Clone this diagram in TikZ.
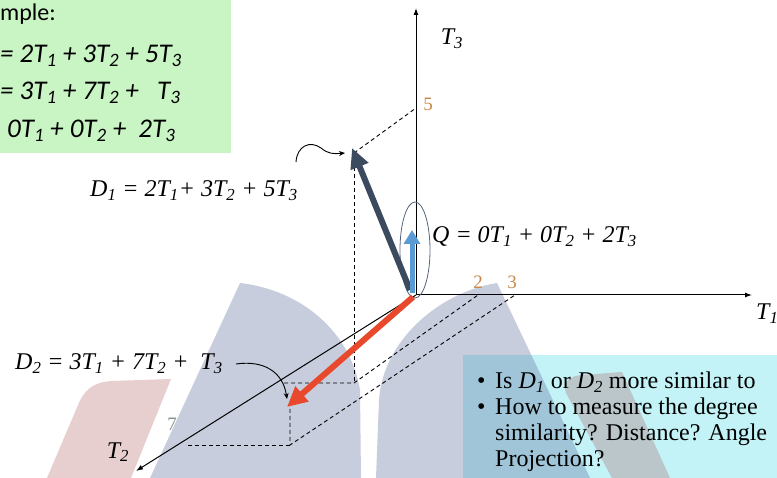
\documentclass[tikz,border=0pt]{standalone}
\usepackage{fontspec}
\setmainfont{Liberation Serif}
\newfontfamily\calib{Carlito}
\usetikzlibrary{arrows.meta}
\definecolor{greenbox}{HTML}{C9F4C4}
\definecolor{cyanbox}{HTML}{C3F3F7}
\definecolor{dOne}{HTML}{3B4A5E}
\definecolor{dTwo}{HTML}{E8492C}
\definecolor{qcol}{HTML}{5B9BD5}
\definecolor{tickc}{HTML}{C8894A}
\definecolor{sevenc}{HTML}{8A9590}
\definecolor{ellc}{HTML}{56657F}
\definecolor{wmgrey}{HTML}{5A6A9A}
\definecolor{wmpink}{HTML}{A03838}
\newcommand\tsb[1]{\textsubscript{#1}}
\begin{document}
\begin{tikzpicture}[x=1pt,y=-1pt,
  lbl/.style={font=\fontsize{24}{28}\selectfont\itshape, inner sep=0pt},
  greentxt/.style={font=\fontsize{27}{30}\selectfont\calib\itshape, inner sep=0pt, anchor=base west},
  bultxt/.style={font=\fontsize{24}{28}\selectfont, inner sep=0pt, anchor=base west},
  ticklbl/.style={font=\fontsize{19}{21}\selectfont, text=tickc, inner sep=0pt},
  axis/.style={line width=1pt, -{Latex[length=7pt,width=5pt]}},
  dashline/.style={line width=0.9pt, dash pattern=on 4pt off 3pt},
  pointer/.style={line width=0.9pt, -{Stealth[length=6pt,width=5pt]}},
  wm/.style={opacity=0.33},
  wmp/.style={opacity=0.24}]
\useasboundingbox (0,0) rectangle (777,478);
\clip (0,0) rectangle (777,478);
\fill[white] (0,0) rectangle (777,478);
% boxes
\fill[greenbox] (0,0) rectangle (231,153);
\fill[cyanbox] (463,355) rectangle (777,478);
% watermark shapes
\fill[wmpink, wmp] (47,478) -- (78,405) .. controls (85,388) and (95,382) .. (112,381) -- (171,379) -- (131,478) -- cycle;
\fill[wmgrey, wm] (150,478) -- (240,283) .. controls (300,290) and (350,330) .. (360,390) -- (361,478) -- cycle;
\fill[wmgrey, wm] (376,478) -- (379,400) .. controls (383,340) and (440,292) .. (497,283) -- (590,478) -- cycle;
\fill[wmpink, wmp] (612,478) -- (566,393) .. controls (562,383) and (570,375) .. (583,375) -- (622,372) -- (670,478) -- cycle;
% green box text
\node[greentxt, font=\fontsize{24}{28}\selectfont\calib] (ex) at (0,21) {mple:};
\node[greentxt] (e1) at (0,63) {= 2T\tsb{1} + 3T\tsb{2} + 5T\tsb{3}};
\node[greentxt] (e2) at (0,100) {= 3T\tsb{1} + 7T\tsb{2} + \ \ T\tsb{3}};
\node[greentxt] (e3) at (7,138) {0T\tsb{1} + 0T\tsb{2} + \ 2T\tsb{3}};
% coordinates
\coordinate (O) at (416,295);
\coordinate (T1e) at (752,295);
\coordinate (T3e) at (416,8);
\coordinate (T2e) at (136,471);
\coordinate (t5) at (416,108);
\coordinate (t2) at (478,295);
\coordinate (t3) at (515,295);
\coordinate (t7) at (188,445);
\coordinate (D1) at (352,148);
\coordinate (D1b) at (354,153);
\coordinate (D1p) at (354,383);
\coordinate (D2l) at (284,383);
\coordinate (D2) at (287,407);
\coordinate (D2a) at (290,409);
\coordinate (D2p) at (290,445);
\coordinate (Qs) at (412,293);
\coordinate (Qe) at (412,230);
\coordinate (D1s) at (410,290);
\coordinate (D2s) at (413,297);
% axes
\draw[axis] (O) -- (T1e);
\draw[axis] (O) -- (T3e);
\draw[axis] (O) -- (T2e);
% dashed projections
\draw[dashline] (D1b) -- (t5);
\draw[dashline] (D1b) -- (D1p);
\draw[dashline] (D2l) -- (D1p) -- (t2);
\draw[dashline] (D2a) -- (D2p) -- (t3);
\draw[dashline] (t7) -- (D2p);
% tick labels
\node[ticklbl] (n5) at (428,104) {5};
\node[ticklbl] (n2) at (478,282) {2};
\node[ticklbl] (n3) at (512,282) {3};
\node[ticklbl, text=sevenc] (n7) at (172,424) {7};
% axis labels
\node[lbl, anchor=base] (T3) at (452,45) {T\tsb{3}};
\node[lbl, anchor=base west] (T1) at (756,320) {T\tsb{1}};
\node[lbl, anchor=base] (T2) at (118,458) {T\tsb{2}};
% ellipse around Q
\draw[ellc, line width=0.8pt] (415,250) ellipse [x radius=15, y radius=48];
% vectors
\draw[dOne, line width=6pt, -{Triangle[length=20pt,width=18pt]}] (D1s) -- (D1);
\draw[qcol, line width=5pt, -{Triangle[length=14pt,width=16pt]}] (Qs) -- (Qe);
\draw[dTwo, line width=6pt, -{Triangle[length=20pt,width=19pt]}] (D2s) -- (D2);
% labels of vectors
\node[lbl, anchor=base west] (D1lab) at (90,197) {D\tsb{1} = 2T\tsb{1}+ 3T\tsb{2} + 5T\tsb{3}};
\node[lbl, anchor=base west] (Qlab) at (432,243) {Q = 0T\tsb{1} + 0T\tsb{2} + 2T\tsb{3}};
\node[lbl, anchor=base west] (D2lab) at (15,370) {D\tsb{2} = 3T\tsb{1} + 7T\tsb{2} + \ T\tsb{3}};
% pointers
\coordinate (p1s) at (296,162);
\coordinate (p1e) at (345,153);
\coordinate (p2s) at (236,364);
\coordinate (p2e) at (287,399);
\draw[pointer] (p1s) .. controls (297,146) and (310,140) .. (321,148) .. controls (328,154) and (334,154) .. (p1e);
\draw[pointer] (p2s) .. controls (264,360) and (283,372) .. (p2e);
% bullets
\node[bultxt] (b1) at (477,389) {•};
\node[bultxt] (b2) at (477,415) {•};
\node[bultxt] (l1) at (495,389) {Is \textit{D}\tsb{\itshape 1} or \textit{D}\tsb{\itshape 2} more similar to};
\node[bultxt] (l2) at (495,415) {How to measure the degree};
\node[bultxt] (l3) at (495,441) {similarity? Distance? Angle};
\node[bultxt] (l4) at (495,467) {Projection?};
\end{tikzpicture}
\end{document}
